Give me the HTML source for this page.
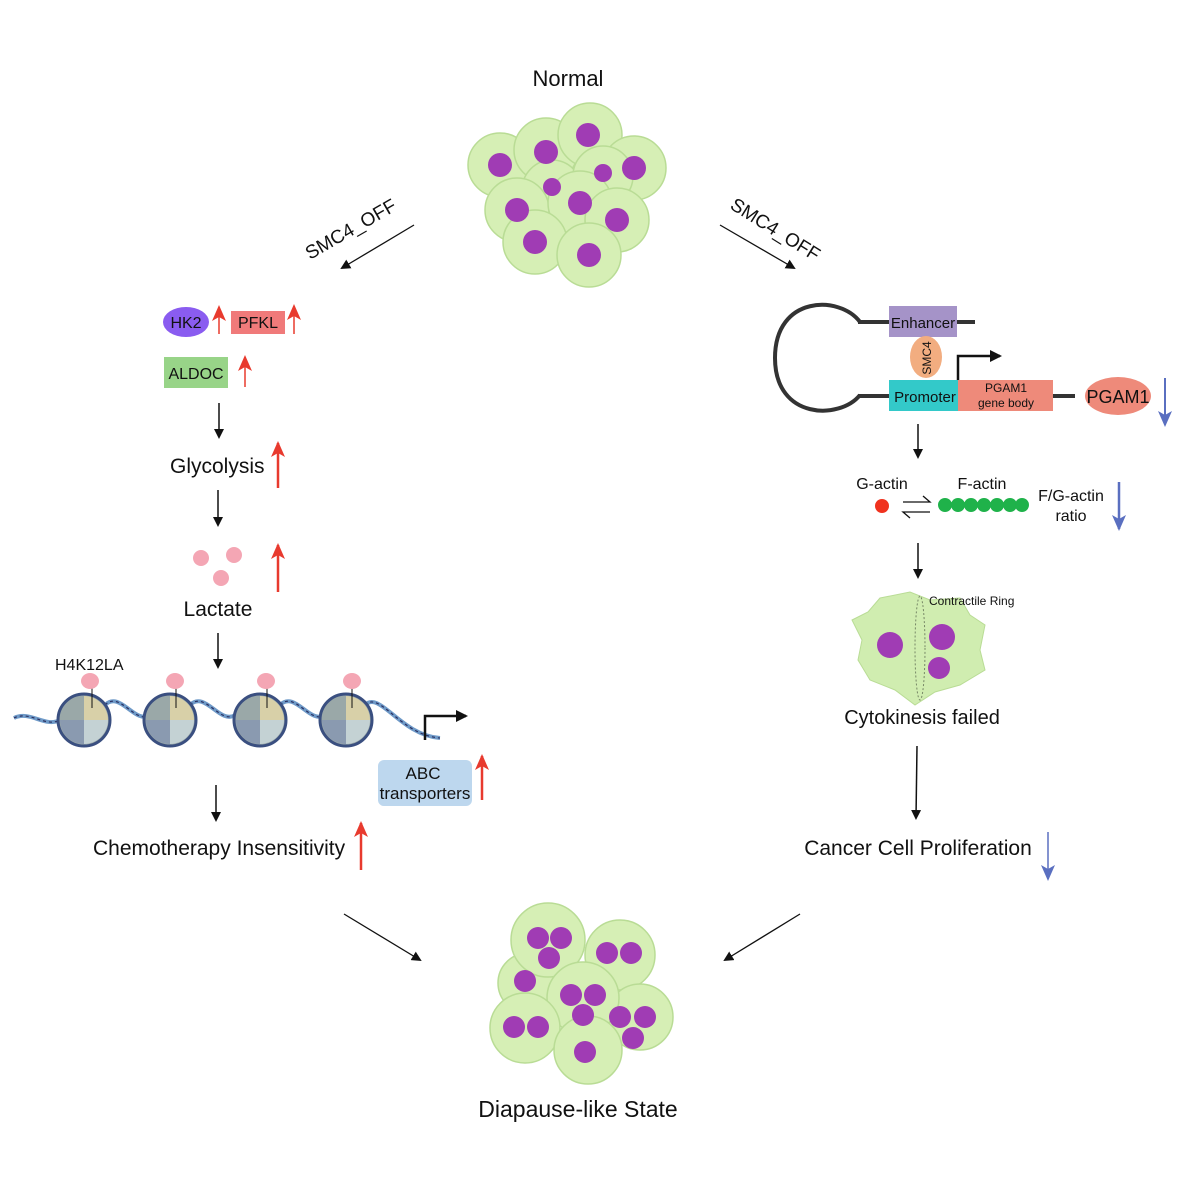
<!DOCTYPE html>
<html><head><meta charset="utf-8"><style>
body{margin:0;background:#fff}
svg{display:block}
text{font-family:"Liberation Sans",sans-serif;fill:#111}
</style></head><body>
<svg width="1191" height="1191" viewBox="0 0 1191 1191" xmlns="http://www.w3.org/2000/svg">
<defs>
<marker id="ah" markerWidth="10" markerHeight="10" refX="8" refY="5" orient="auto" markerUnits="userSpaceOnUse"><path d="M0,0 L10,5 L0,10 Z" fill="#111"/></marker>
<marker id="rh" markerWidth="16" markerHeight="14" refX="14" refY="7" orient="auto" markerUnits="userSpaceOnUse"><path d="M0,0 L16,7 L0,14 L4,7 Z" fill="#e83a2e"/></marker>
<marker id="bh" markerWidth="16" markerHeight="14" refX="14" refY="7" orient="auto" markerUnits="userSpaceOnUse"><path d="M0,0 L16,7 L0,14 L4,7 Z" fill="#5a6fc0"/></marker>
<marker id="sh" markerWidth="12" markerHeight="12" refX="10" refY="6" orient="auto" markerUnits="userSpaceOnUse"><path d="M0,0 L12,6 L0,12 Z" fill="#111"/></marker>
</defs>
<text x="568" y="86" font-size="22" text-anchor="middle">Normal</text>
<g stroke="#b9dc95" stroke-width="1.5" fill="#d6efb5">
<circle cx="500" cy="165" r="32"/><circle cx="546" cy="150" r="32"/><circle cx="590" cy="135" r="32"/><circle cx="634" cy="168" r="32"/>
<circle cx="552" cy="190" r="30"/><circle cx="603" cy="176" r="30"/><circle cx="517" cy="210" r="32"/><circle cx="580" cy="203" r="32"/><circle cx="617" cy="220" r="32"/><circle cx="535" cy="242" r="32"/><circle cx="589" cy="255" r="32"/>
</g>
<g fill="#a03cb4">
<circle cx="500" cy="165" r="12"/><circle cx="546" cy="152" r="12"/><circle cx="588" cy="135" r="12"/><circle cx="634" cy="168" r="12"/><circle cx="552" cy="187" r="9"/><circle cx="603" cy="173" r="9"/><circle cx="517" cy="210" r="12"/><circle cx="580" cy="203" r="12"/><circle cx="617" cy="220" r="12"/><circle cx="535" cy="242" r="12"/><circle cx="589" cy="255" r="12"/>
</g>
<text x="0" y="0" font-size="19" transform="translate(310,260) rotate(-30)">SMC4_OFF</text>
<line x1="414" y1="225" x2="342" y2="268" stroke="#111" stroke-width="1.3" marker-end="url(#ah)"/>
<text x="0" y="0" font-size="19" transform="translate(729,208) rotate(32)">SMC4_OFF</text>
<line x1="720" y1="225" x2="794" y2="268" stroke="#111" stroke-width="1.3" marker-end="url(#ah)"/>
<!-- left -->
<ellipse cx="186" cy="322" rx="23" ry="15" fill="#8a5cf0"/><text x="186" y="328" font-size="16" text-anchor="middle">HK2</text>
<line x1="219" y1="334" x2="219" y2="307" stroke="#e83a2e" stroke-width="1.5" marker-end="url(#rh)"/>
<rect x="231" y="311" width="54" height="23" fill="#f07a7a"/><text x="258" y="328" font-size="16" text-anchor="middle">PFKL</text>
<line x1="294" y1="334" x2="294" y2="306" stroke="#e83a2e" stroke-width="1.5" marker-end="url(#rh)"/>
<rect x="164" y="357" width="64" height="31" fill="#98d488"/><text x="196" y="379" font-size="16" text-anchor="middle">ALDOC</text>
<line x1="245" y1="387" x2="245" y2="357" stroke="#e83a2e" stroke-width="1.5" marker-end="url(#rh)"/>
<line x1="219" y1="403" x2="219" y2="437" stroke="#111" stroke-width="1.5" marker-end="url(#ah)"/>
<text x="170" y="473" font-size="21">Glycolysis</text>
<line x1="278" y1="488" x2="278" y2="443" stroke="#e83a2e" stroke-width="2.5" marker-end="url(#rh)"/>
<line x1="218" y1="490" x2="218" y2="525" stroke="#111" stroke-width="1.5" marker-end="url(#ah)"/>
<g fill="#f4a6b4"><circle cx="201" cy="558" r="8"/><circle cx="234" cy="555" r="8"/><circle cx="221" cy="578" r="8"/></g>
<line x1="278" y1="592" x2="278" y2="545" stroke="#e83a2e" stroke-width="2.5" marker-end="url(#rh)"/>
<text x="218" y="616" font-size="21" text-anchor="middle">Lactate</text>
<line x1="218" y1="633" x2="218" y2="667" stroke="#111" stroke-width="1.5" marker-end="url(#ah)"/>
<text x="55" y="670" font-size="16">H4K12LA</text>
<path d="M14,718 C30,710 45,728 60,720 M105,705 C120,690 135,725 150,715 M190,705 C205,690 220,725 235,715 M280,705 C295,690 310,725 325,715 M365,705 C380,690 400,735 440,738" stroke="#6f9ac8" stroke-width="4" fill="none"/>
<path d="M14,718 C30,710 45,728 60,720 M105,705 C120,690 135,725 150,715 M190,705 C205,690 220,725 235,715 M280,705 C295,690 310,725 325,715 M365,705 C380,690 400,735 440,738" stroke="#2a3060" stroke-width="1.2" stroke-dasharray="3 3" fill="none"/>
<g>
<g transform="translate(84,720)"><circle r="26" fill="#9aa8a8" stroke="#3a4f80" stroke-width="3"/><path d="M0,-24 A24,24 0 0 1 24,0 L0,0Z" fill="#d8d0a8"/><path d="M24,0 A24,24 0 0 1 0,24 L0,0Z" fill="#c4d2d4"/><path d="M0,24 A24,24 0 0 1 -24,0 L0,0Z" fill="#8a9ab0"/></g>
<g transform="translate(170,720)"><circle r="26" fill="#9aa8a8" stroke="#3a4f80" stroke-width="3"/><path d="M0,-24 A24,24 0 0 1 24,0 L0,0Z" fill="#d8d0a8"/><path d="M24,0 A24,24 0 0 1 0,24 L0,0Z" fill="#c4d2d4"/><path d="M0,24 A24,24 0 0 1 -24,0 L0,0Z" fill="#8a9ab0"/></g>
<g transform="translate(260,720)"><circle r="26" fill="#9aa8a8" stroke="#3a4f80" stroke-width="3"/><path d="M0,-24 A24,24 0 0 1 24,0 L0,0Z" fill="#d8d0a8"/><path d="M24,0 A24,24 0 0 1 0,24 L0,0Z" fill="#c4d2d4"/><path d="M0,24 A24,24 0 0 1 -24,0 L0,0Z" fill="#8a9ab0"/></g>
<g transform="translate(346,720)"><circle r="26" fill="#9aa8a8" stroke="#3a4f80" stroke-width="3"/><path d="M0,-24 A24,24 0 0 1 24,0 L0,0Z" fill="#d8d0a8"/><path d="M24,0 A24,24 0 0 1 0,24 L0,0Z" fill="#c4d2d4"/><path d="M0,24 A24,24 0 0 1 -24,0 L0,0Z" fill="#8a9ab0"/></g>
</g>
<g stroke="#111" stroke-width="1"><line x1="92" y1="688" x2="92" y2="708"/><line x1="176" y1="688" x2="176" y2="708"/><line x1="267" y1="688" x2="267" y2="708"/><line x1="352" y1="688" x2="352" y2="708"/></g>
<g fill="#f4a6b4"><ellipse cx="90" cy="681" rx="9" ry="8"/><ellipse cx="175" cy="681" rx="9" ry="8"/><ellipse cx="266" cy="681" rx="9" ry="8"/><ellipse cx="352" cy="681" rx="9" ry="8"/></g>
<path d="M425,740 L425,716 L466,716" stroke="#111" stroke-width="2.5" fill="none" marker-end="url(#sh)"/>
<rect x="378" y="760" width="94" height="46" rx="6" fill="#bdd7ee"/>
<text x="423" y="779" font-size="17" text-anchor="middle">ABC</text><text x="425" y="799" font-size="17" text-anchor="middle">transporters</text>
<line x1="482" y1="800" x2="482" y2="756" stroke="#e83a2e" stroke-width="2.5" marker-end="url(#rh)"/>
<line x1="216" y1="785" x2="216" y2="820" stroke="#111" stroke-width="1.5" marker-end="url(#ah)"/>
<text x="93" y="855" font-size="21">Chemotherapy Insensitivity</text>
<line x1="361" y1="870" x2="361" y2="823" stroke="#e83a2e" stroke-width="2.5" marker-end="url(#rh)"/>
<line x1="344" y1="914" x2="420" y2="960" stroke="#111" stroke-width="1.3" marker-end="url(#ah)"/>
<line x1="800" y1="914" x2="725" y2="960" stroke="#111" stroke-width="1.3" marker-end="url(#ah)"/>
<!-- right -->
<path d="M860,322 C840,295 775,295 775,358 C775,420 840,420 860,395" stroke="#333" stroke-width="4" fill="none"/>
<line x1="858" y1="322" x2="975" y2="322" stroke="#333" stroke-width="4"/>
<line x1="858" y1="396" x2="1075" y2="396" stroke="#333" stroke-width="4"/>
<rect x="889" y="306" width="68" height="31" fill="#a593c8"/><text x="923" y="328" font-size="15" text-anchor="middle">Enhancer</text>
<ellipse cx="926" cy="357" rx="16" ry="21" fill="#f2ad80"/><text x="0" y="0" font-size="12" text-anchor="middle" transform="translate(931,358) rotate(-90)">SMC4</text>
<rect x="889" y="380" width="69" height="31" fill="#33c9c9"/><text x="925" y="402" font-size="15" text-anchor="middle">Promoter</text>
<rect x="958" y="380" width="95" height="31" fill="#ee8a7a"/><text x="1006" y="392" font-size="12" text-anchor="middle">PGAM1</text><text x="1006" y="407" font-size="12" text-anchor="middle">gene body</text>
<path d="M958,380 L958,356 L1000,356" stroke="#111" stroke-width="2.5" fill="none" marker-end="url(#sh)"/>
<ellipse cx="1118" cy="396" rx="33" ry="19" fill="#ee8a7a"/><text x="1118" y="403" font-size="18" text-anchor="middle">PGAM1</text>
<line x1="1165" y1="378" x2="1165" y2="425" stroke="#5a6fc0" stroke-width="2" marker-end="url(#bh)"/>
<line x1="918" y1="424" x2="918" y2="457" stroke="#111" stroke-width="1.5" marker-end="url(#ah)"/>
<text x="882" y="489" font-size="16" text-anchor="middle">G-actin</text><text x="982" y="489" font-size="16" text-anchor="middle">F-actin</text>
<circle cx="882" cy="506" r="7" fill="#f0321e"/>
<path d="M903,502 L930,502 L923,496 M930,512 L903,512 L910,518" stroke="#111" stroke-width="1.3" fill="none"/>
<g fill="#1fb24a"><circle cx="945" cy="505" r="7"/><circle cx="958" cy="505" r="7"/><circle cx="971" cy="505" r="7"/><circle cx="984" cy="505" r="7"/><circle cx="997" cy="505" r="7"/><circle cx="1010" cy="505" r="7"/><circle cx="1022" cy="505" r="7"/></g>
<text x="1071" y="501" font-size="16" text-anchor="middle">F/G-actin</text><text x="1071" y="521" font-size="16" text-anchor="middle">ratio</text>
<line x1="1119" y1="482" x2="1119" y2="529" stroke="#5a6fc0" stroke-width="2.5" marker-end="url(#bh)"/>
<line x1="918" y1="543" x2="918" y2="577" stroke="#111" stroke-width="1.5" marker-end="url(#ah)"/>
<path d="M880,598 L910,592 L930,600 L960,598 L970,615 L985,625 L980,650 L985,670 L960,685 L935,692 L915,705 L895,690 L870,680 L858,660 L862,640 L852,620 L868,612 Z" fill="#d0edb0" stroke="#b9dc95"/>
<ellipse cx="920" cy="648" rx="5" ry="52" fill="none" stroke="#778866" stroke-dasharray="2 2"/>
<g fill="#a03cb4"><circle cx="890" cy="645" r="13"/><circle cx="942" cy="637" r="13"/><circle cx="939" cy="668" r="11"/></g>
<text x="929" y="605" font-size="12">Contractile Ring</text>
<text x="922" y="724" font-size="20" text-anchor="middle">Cytokinesis failed</text>
<line x1="917" y1="746" x2="916" y2="818" stroke="#111" stroke-width="1.5" marker-end="url(#ah)"/>
<text x="918" y="855" font-size="21" text-anchor="middle">Cancer Cell Proliferation</text>
<line x1="1048" y1="832" x2="1048" y2="879" stroke="#5a6fc0" stroke-width="1.5" marker-end="url(#bh)"/>
<!-- bottom cluster -->
<g stroke="#b9dc95" stroke-width="1.5" fill="#d6efb5">
<circle cx="528" cy="983" r="30"/><circle cx="548" cy="940" r="37"/><circle cx="620" cy="955" r="35"/><circle cx="640" cy="1017" r="33"/><circle cx="583" cy="998" r="36"/><circle cx="525" cy="1028" r="35"/><circle cx="588" cy="1050" r="34"/>
</g>
<g fill="#a03cb4">
<circle cx="538" cy="938" r="11"/><circle cx="561" cy="938" r="11"/><circle cx="549" cy="958" r="11"/>
<circle cx="607" cy="953" r="11"/><circle cx="631" cy="953" r="11"/><circle cx="525" cy="981" r="11"/>
<circle cx="571" cy="995" r="11"/><circle cx="595" cy="995" r="11"/><circle cx="583" cy="1015" r="11"/>
<circle cx="620" cy="1017" r="11"/><circle cx="645" cy="1017" r="11"/><circle cx="633" cy="1038" r="11"/>
<circle cx="514" cy="1027" r="11"/><circle cx="538" cy="1027" r="11"/><circle cx="585" cy="1052" r="11"/>
</g>
<text x="578" y="1117" font-size="23" text-anchor="middle">Diapause-like State</text>
</svg>
</body></html>
